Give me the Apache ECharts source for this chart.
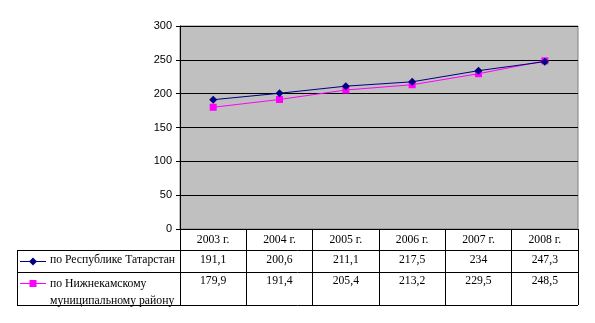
<!DOCTYPE html>
<html>
<head>
<meta charset="utf-8">
<script src="https://cdn.jsdelivr.net/npm/echarts@6/dist/echarts.min.js"></script>
<style>
  html, body { margin: 0; padding: 0; background: #fff; }
  #chart { width: 595px; height: 323px; }
</style>
</head>
<body>
<div id="chart"></div>
<script>
// Среднемесячные показатели, 2003–2008 гг.
const years = ['2003 г.', '2004 г.', '2005 г.', '2006 г.', '2007 г.', '2008 г.'];
const tatarstan = [191.1, 200.6, 211.1, 217.5, 234, 247.3];
const nizhnekamsk = [179.9, 191.4, 205.4, 213.2, 229.5, 248.5];
const seriesNames = ['по Республике Татарстан', 'по Нижнекамскому\nмуниципальному району'];
const yTicks = [0, 50, 100, 150, 200, 250, 300];

const NAVY = '#000080';
const MAGENTA = '#ff00ff';
const SERIF = '"Liberation Serif", "Times New Roman", serif';
const SANS = '"Liberation Sans", Arial, sans-serif';
const TABLE_FONT = 11.7;

const fmt = v => String(v).replace('.', ',');

const chart = echarts.init(document.getElementById('chart'), null, { renderer: 'canvas' });

const GRID = { left: 180, right: 17, top: 26, bottom: 94 };

chart.setOption({
  animation: false,
  grid: {
    left: GRID.left, right: GRID.right, top: GRID.top, bottom: GRID.bottom,
    show: true, backgroundColor: '#c0c0c0', borderColor: '#808080', borderWidth: 1
  },
  xAxis: {
    type: 'category',
    data: years,
    boundaryGap: true,
    axisLine: { lineStyle: { color: '#000', width: 1 } },
    axisTick: { show: true, length: 76, lineStyle: { color: '#000', width: 1 } },
    axisLabel: { color: '#000', fontFamily: SERIF, fontSize: TABLE_FONT, margin: 5 },
    splitLine: { show: false }
  },
  yAxis: {
    type: 'value',
    min: yTicks[0], max: yTicks[yTicks.length - 1], interval: 50,
    axisLine: { show: true, lineStyle: { color: '#000', width: 1 } },
    axisTick: { show: true, length: 4, lineStyle: { color: '#000' } },
    axisLabel: { color: '#000', fontFamily: SANS, fontSize: 11, margin: 8 },
    splitLine: { show: true, lineStyle: { color: '#000', width: 1 } }
  },
  series: [
    {
      name: seriesNames[0], type: 'line', data: tatarstan,
      symbol: 'diamond', symbolSize: 8,
      lineStyle: { color: NAVY, width: 1 },
      itemStyle: { color: NAVY },
      z: 3
    },
    {
      name: seriesNames[1], type: 'line', data: nizhnekamsk,
      symbol: 'rect', symbolSize: 7,
      lineStyle: { color: MAGENTA, width: 1 },
      itemStyle: { color: MAGENTA },
      z: 2
    }
  ]
});

// Таблица данных под диаграммой
const H = 323, W = 595;
const xRight = W - GRID.right;
const yAxisBottom = H - GRID.bottom;
const tableLeft = 17;
const row1Top = yAxisBottom + 21;
const row2Top = row1Top + 22;
const tableBottom = row2Top + 33;
const font = TABLE_FONT + 'px ' + SERIF;

const graphics = [];
const hline = (y) => graphics.push({
  type: 'line', shape: { x1: tableLeft, y1: y + 0.5, x2: xRight, y2: y + 0.5 },
  style: { stroke: '#000', lineWidth: 1 }
});
hline(row1Top); hline(row2Top); hline(tableBottom);
graphics.push({
  type: 'line', shape: { x1: tableLeft + 0.5, y1: row1Top, x2: tableLeft + 0.5, y2: tableBottom },
  style: { stroke: '#000', lineWidth: 1 }
});

// Легенда в строках таблицы
const legendRow = (y, color, symbolShape) => {
  graphics.push({
    type: 'line', shape: { x1: 20, y1: y, x2: 46, y2: y },
    style: { stroke: color, lineWidth: 1 }
  });
  graphics.push(symbolShape);
};
legendRow(row1Top + 11.5, NAVY, {
  type: 'polygon',
  shape: { points: [[33, row1Top + 7.5], [37, row1Top + 11.5], [33, row1Top + 15.5], [29, row1Top + 11.5]] },
  style: { fill: NAVY }
});
legendRow(row2Top + 11.5, MAGENTA, {
  type: 'rect',
  shape: { x: 29.5, y: row2Top + 8, width: 7, height: 7 },
  style: { fill: MAGENTA }
});

graphics.push({
  type: 'text', left: 50, top: row1Top + 4,
  style: { text: seriesNames[0], font: font, fill: '#000' }
});
graphics.push({
  type: 'text', left: 50, top: row2Top + 3,
  style: { text: seriesNames[1], font: font, fill: '#000', lineHeight: 17 }
});

years.forEach((_, i) => {
  const cx = chart.convertToPixel({ xAxisIndex: 0 }, i);
  graphics.push({
    type: 'text', x: cx, y: row1Top + 4,
    style: { text: fmt(tatarstan[i]), font: font, fill: '#000', align: 'center', verticalAlign: 'top' }
  });
  graphics.push({
    type: 'text', x: cx, y: row2Top + 3,
    style: { text: fmt(nizhnekamsk[i]), font: font, fill: '#000', align: 'center', verticalAlign: 'top' }
  });
});

chart.setOption({ graphic: graphics });
</script>
</body>
</html>
